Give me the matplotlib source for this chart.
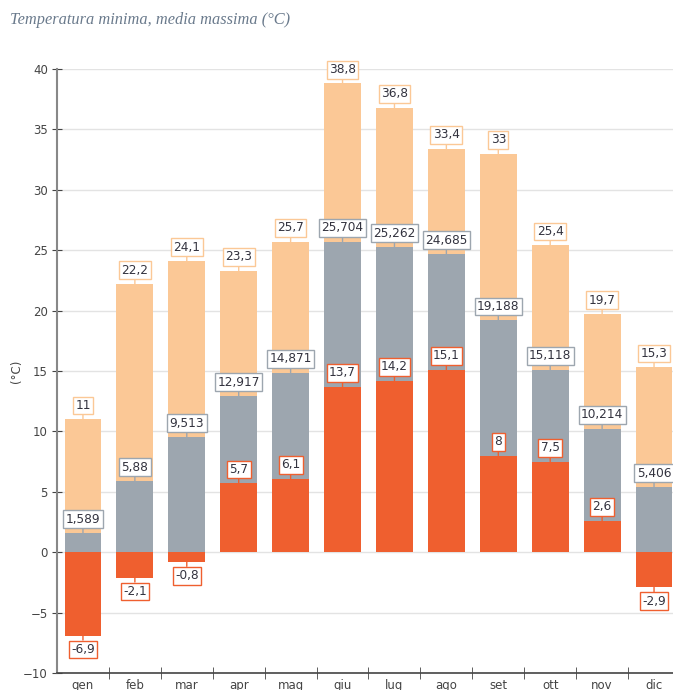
import matplotlib.pyplot as plt
import numpy as np

mesi = ['gen', 'feb', 'mar', 'apr', 'mag', 'giu', 'lug', 'ago', 'set', 'ott', 'nov', 'dic']
t_max = [11, 22.2, 24.1, 23.3, 25.7, 38.8, 36.8, 33.4, 33, 25.4, 19.7, 15.3]
t_media = [1.589, 5.88, 9.513, 12.917, 14.871, 25.704, 25.262, 24.685, 19.188, 15.118, 10.214, 5.406]
t_min = [-6.9, -2.1, -0.8, 5.7, 6.1, 13.7, 14.2, 15.1, 8, 7.5, 2.6, -2.9]

col_max = '#fbc896'
col_media = '#9da6af'
col_min = '#ef5f2f'
txt_col = '#33333f'


def fmt(v):
    s = ('%.3f' % v).rstrip('0').rstrip('.')
    return s.replace('.', ',')


fig = plt.figure(figsize=(6.73, 6.90), dpi=100)
ax = fig.add_axes([57 / 673, 17 / 690, 623 / 673, 604 / 690])

x = np.arange(len(mesi))
w = 0.71
for vals, col in [(t_max, col_max), (t_media, col_media), (t_min, col_min)]:
    ax.bar(x, vals, width=w, color=col, zorder=2)

# etichette con riquadro e trattino verso la barra
for vals, col in [(t_max, col_max), (t_media, col_media), (t_min, col_min)]:
    for i, v in enumerate(vals):
        off = 10 if v >= 0 else -10
        ax.annotate(fmt(v), xy=(i, v), xytext=(0, off), textcoords='offset points',
                    ha='center', va='center', fontsize=8.7, color=txt_col,
                    family='DejaVu Sans', zorder=5,
                    bbox=dict(boxstyle='square,pad=0.2', fc='white', ec=col, lw=1),
                    arrowprops=dict(arrowstyle='-', color=col, lw=1, shrinkA=0, shrinkB=0))

ax.set_ylim(-10, 40)
ax.set_xlim(-0.5, 11.5)
ax.set_yticks(np.arange(-10, 41, 5))
ax.yaxis.grid(True, color='#e3e3e3', lw=1, zorder=0)
ax.set_axisbelow(True)

ax.set_xticks(x)
ax.set_xticklabels(mesi)
ax.set_xticks(np.arange(0.5, 11.5, 1), minor=True)
ax.tick_params(axis='x', which='major', length=0, labelsize=8.5, labelcolor='#444444', pad=4)
ax.tick_params(axis='x', which='minor', length=8, direction='inout', color='#444444')
ax.tick_params(axis='y', length=7, direction='inout', color='#444444', labelsize=8.5,
               labelcolor='#444444', pad=3)

for s in ['top', 'right']:
    ax.spines[s].set_visible(False)
ax.spines['left'].set_color('#888888')
ax.spines['left'].set_linewidth(1.5)
ax.spines['bottom'].set_color('#444444')
ax.spines['bottom'].set_linewidth(1.2)

ax.set_ylabel('(°C)', fontsize=8.5, color='#444444', labelpad=0)

fig.text(10 / 673, 1 - 20 / 690, 'Temperatura minima, media massima (°C)',
         fontsize=11.8, style='italic', family='Liberation Serif', color='#6a7a8c',
         ha='left', va='center')

fig.savefig('out.png', dpi=100)
